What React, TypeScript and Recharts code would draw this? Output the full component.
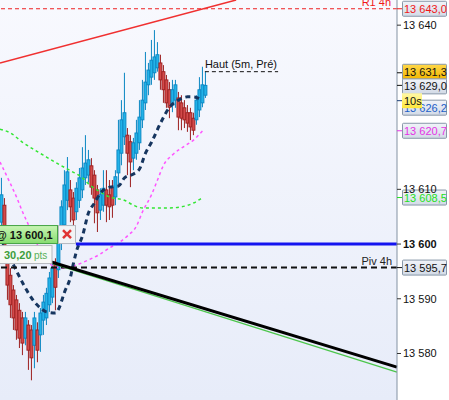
import { ComposedChart, Bar, Line, XAxis, YAxis, ReferenceLine, ReferenceDot } from 'recharts'

// 5m candles (index = candle number)
const opens = [
  13604.0, 13607.1, 13598.9, 13594.3, 13591.6, 13589.8, 13587.9, 13586.5, 13582.8, 13585.2,
  13584.3, 13581.5, 13584.3, 13583.4, 13586.1, 13586.5, 13588.9, 13590.3, 13596.7, 13595.3,
  13600.2, 13603.5, 13608.0, 13609.9, 13608.4, 13605.9, 13608.0, 13609.9, 13612.1, 13612.6,
  13614.3, 13612.6, 13609.9, 13606.2, 13607.1, 13609.9, 13609.0, 13610.4, 13608.6, 13613.0,
  13616.6, 13619.6, 13619.9, 13618.7, 13615.7, 13616.6, 13618.5, 13622.7, 13625.8, 13629.1,
  13630.5, 13631.3, 13632.2, 13633.1, 13631.5, 13630.0, 13628.2, 13625.4, 13626.3, 13626.7,
  13625.8, 13624.9, 13624.0, 13624.0, 13623.0, 13622.7, 13624.5, 13625.8, 13627.2,
]
const highs = [
  13612.1, 13608.4, 13599.8, 13595.6, 13592.5, 13590.7, 13589.2, 13587.6, 13587.6, 13586.1,
  13585.2, 13587.6, 13585.7, 13588.3, 13590.7, 13592.0, 13594.9, 13596.7, 13597.4, 13602.9,
  13608.0, 13613.5, 13615.9, 13611.7, 13609.5, 13611.3, 13613.9, 13617.7, 13619.9, 13617.2,
  13615.7, 13613.5, 13610.8, 13610.2, 13613.5, 13613.5, 13611.7, 13611.7, 13613.5, 13622.7,
  13626.3, 13631.3, 13621.2, 13619.9, 13619.4, 13622.7, 13626.3, 13630.0, 13635.1, 13633.1,
  13637.3, 13639.1, 13636.9, 13634.6, 13632.7, 13630.9, 13629.6, 13630.0, 13630.0, 13627.8,
  13627.2, 13626.3, 13625.4, 13624.9, 13624.0, 13627.2, 13630.5, 13632.4, 13631.5,
]
const lows = [
  13602.9, 13597.4, 13589.8, 13586.5, 13584.3, 13582.5, 13581.0, 13579.7, 13581.5, 13577.0,
  13575.1, 13577.3, 13578.4, 13580.3, 13583.4, 13585.2, 13587.6, 13589.2, 13587.9, 13593.8,
  13598.9, 13602.2, 13606.2, 13604.0, 13602.0, 13604.4, 13606.6, 13608.4, 13610.8, 13611.2,
  13609.0, 13603.8, 13602.2, 13604.4, 13605.9, 13604.0, 13604.4, 13604.8, 13607.1, 13610.8,
  13614.4, 13618.1, 13612.6, 13610.4, 13613.5, 13615.4, 13617.2, 13621.2, 13624.5, 13627.2,
  13629.1, 13630.0, 13631.5, 13628.2, 13625.8, 13624.9, 13623.0, 13624.1, 13624.9, 13620.8,
  13620.8, 13621.2, 13620.5, 13619.0, 13619.9, 13621.8, 13623.2, 13625.0, 13626.7,
]
const closes = [
  13609.0, 13598.9, 13592.5, 13588.9, 13586.5, 13584.3, 13582.8, 13581.9, 13586.5, 13580.6,
  13579.2, 13586.5, 13580.6, 13587.4, 13589.4, 13591.0, 13593.8, 13595.6, 13592.1, 13602.0,
  13606.8, 13610.8, 13613.2, 13606.8, 13604.4, 13610.2, 13612.1, 13613.9, 13614.8, 13615.4,
  13610.4, 13608.4, 13605.7, 13609.0, 13610.2, 13607.1, 13606.8, 13607.1, 13612.3, 13617.2,
  13622.7, 13624.0, 13616.6, 13615.0, 13618.5, 13620.3, 13623.2, 13626.3, 13629.6, 13631.8,
  13633.6, 13634.2, 13634.6, 13630.0, 13628.2, 13625.8, 13625.0, 13628.2, 13629.1, 13623.2,
  13623.0, 13622.7, 13622.1, 13621.4, 13620.8, 13626.3, 13628.2, 13629.1, 13629.0,
]

// indicator curves (candle index -> value)
const maIdx = [0, 4, 6, 9, 11, 13, 15, 18, 19, 21, 23, 24, 25, 27, 29, 31, 33, 36, 39, 41, 44, 46, 48, 50, 53, 56, 59, 62, 64, 67]
const maVals = [
  13600.7, 13596.2, 13594.0, 13591.0, 13589.4, 13588.3, 13587.6, 13587.4, 13588.1, 13591.2,
  13594.0, 13596.5, 13598.7, 13601.5, 13605.7, 13607.5, 13609.3, 13610.4, 13610.6, 13612.1,
  13612.8, 13613.7, 13616.6, 13618.6, 13622.1, 13625.0, 13626.3, 13626.9, 13626.9, 13626.2,
]
const greenIdx = [-0.5, 3, 7, 11, 15, 20, 23, 27, 29, 33, 36, 41, 44, 47, 52, 56, 60, 64, 67]
const greenVals = [
  13621.0, 13620.3, 13618.6, 13617.2, 13615.9, 13614.3, 13613.4, 13612.1, 13611.0, 13609.5,
  13608.6, 13608.0, 13607.1, 13606.6, 13606.6, 13606.6, 13606.8, 13607.5, 13608.5,
]
const pinkIdx = [-0.5, 3, 5, 7, 9, 12, 15, 18, 21, 24, 29, 33, 36, 39, 42, 45, 47, 50, 52, 54, 57, 61, 64, 67]
const pinkVals = [
  13615.0, 13611.0, 13608.6, 13605.9, 13603.5, 13599.8, 13597.1, 13595.8, 13595.6, 13596.0,
  13597.1, 13598.2, 13599.3, 13600.2, 13601.5, 13603.3, 13605.9, 13609.0, 13611.7, 13614.4,
  13616.3, 13617.9, 13619.0, 13620.7,
]

// levels and drawn lines
const r1Level = 13643.0
const pivLevel = 13595.7
const orderLevel = 13600
const hautLevel = 13631.5
const hautFrom = 67.8
const hautTo = 92.2
const orderFrom = 24.8
const redTrend = [[-0.5, 13633.1], [78.2, 13644.6]]
const blackTrend = [[15.5, 13596.9], [131.8, 13577.5]]
const greenTrend = [[15.5, 13596.7], [131.8, 13576.6]]

const yTicks = [13580, 13590, 13600, 13610, 13640]
const tagValues = [13643.0, 13631.3, 13629.0, 13626.2, 13620.7, 13608.5, 13595.7]
const tagStyles = [
  { text: '#f01818', tick: '#f01818', fill: 'url(#tagGray)', nudge: 0 },
  { text: '#111', tick: '#111', fill: 'url(#tagGold)', nudge: -1 },
  { text: '#111', tick: '#111', fill: 'url(#tagGray)', nudge: 1 },
  { text: '#1c5fc8', tick: '#1c3f78', fill: 'url(#tagGray)', nudge: 7 },
  { text: '#e632e6', tick: '#e632e6', fill: 'url(#tagGray)', nudge: 0 },
  { text: '#22e022', tick: '#22e022', fill: 'url(#tagGray)', nudge: 0 },
  { text: '#111', tick: '#111', fill: 'url(#tagGray)', nudge: 0 },
]

const X_MIN = -0.5
const X_MAX = 131.83
const FONT = '"Liberation Sans", Arial, sans-serif'

const rows = opens.map((o, i) => ({ i, open: o, high: highs[i], low: lows[i], close: closes[i] }))
const maData = maIdx.map((i, k) => ({ i, v: maVals[k] }))
const greenData = greenIdx.map((i, k) => ({ i, v: greenVals[k] }))
const pinkData = pinkIdx.map((i, k) => ({ i, v: pinkVals[k] }))

const fmtTick = (v: number) => `${Math.floor(v / 1000)} ${String(v % 1000).padStart(3, '0')}`
const fmtPrice = (v: number) => {
  const [int, dec] = v.toFixed(1).split('.')
  return `${int.slice(0, int.length - 3)} ${int.slice(-3)},${dec}`
}

const Candle = (props: any) => {
  const { x, y, width, height, payload } = props
  if (!payload) return null
  const top = Math.min(y, y + height)
  const h = Math.abs(height)
  const cx = x + width / 2
  const span = payload.high - payload.low || 1
  const py = (v: number) => top + ((payload.high - v) / span) * h
  const up = payload.close >= payload.open
  const dark = up ? '#0a86c2' : '#9c1f1f'
  const light = up ? '#22b2e8' : '#d24a4a'
  const bTop = py(Math.max(payload.open, payload.close))
  const bBot = py(Math.min(payload.open, payload.close))
  return (
    <g>
      <line x1={cx} x2={cx} y1={top} y2={top + h} stroke={dark} strokeWidth={1} />
      <rect x={cx - 1.5} y={bTop} width={3} height={Math.max(bBot - bTop, 1)} fill={light} stroke={dark} strokeWidth={0.9} />
    </g>
  )
}

const AxisTick = (props: any) => {
  const { x, y, payload } = props
  return (
    <text x={x} y={y} dy={4} fontSize={11} fontFamily={FONT} fill="#111" fontWeight={payload.value === orderLevel ? 'bold' : 'normal'}>
      {fmtTick(payload.value)}
    </text>
  )
}

const tagShape = (value: number, s: (typeof tagStyles)[number]) => (p: any) => {
  const cy = p.cy + s.nudge
  const x0 = p.cx + 5
  return (
    <g>
      <line x1={p.cx} x2={x0} y1={p.cy} y2={p.cy} stroke={s.tick} strokeWidth={1} />
      <rect x={x0 + 0.5} y={cy - 7.5} width={44} height={15} rx={1} fill={s.fill} stroke="#8797a8" strokeWidth={1} />
      <text x={x0 + 2} y={cy + 4} fontSize={11} fontFamily={FONT} fill={s.text}>
        {fmtPrice(value)}
      </text>
    </g>
  )
}

const timerShape = (p: any) => (
  <g>
    <rect x={p.cx + 5} y={p.cy - 7.5} width={20} height={15} fill="url(#tenS)" />
    <text x={p.cx + 7} y={p.cy + 4} fontSize={11} fontFamily={FONT} fill="#111">10s</text>
  </g>
)

const sideLabel = (text: string, color: string, dx: number, dy: number, anchor: 'start' | 'end') => (p: any) => (
  <text x={p.cx + dx} y={p.cy + dy} fontSize={11} fontFamily={FONT} fill={color} textAnchor={anchor}>
    {text}
  </text>
)

const orderShape = (p: any) => {
  const cy = p.cy
  return (
    <g>
      <rect x={-1} y={cy - 18.5} width={58.5} height={18} fill="url(#orderGreen)" stroke="#44a244" strokeWidth={1} />
      <text x={-4} y={cy - 5} fontSize={11} fontWeight="bold" fontFamily={FONT} fill="#111">@ 13 600,1</text>
      <rect x={58.5} y={cy - 18.5} width={17} height={18} fill="#f2f3f5" stroke="#b4b8bf" strokeWidth={1} />
      <line x1={63} y1={cy - 14} x2={71} y2={cy - 6} stroke="#e03434" strokeWidth={2.5} />
      <line x1={71} y1={cy - 14} x2={63} y2={cy - 6} stroke="#e03434" strokeWidth={2.5} />
      <rect x={-1} y={cy + 1.5} width={53} height={18} fill="#f6f8f6" stroke="#b5b8bd" strokeWidth={1} />
      <text x={4} y={cy + 15} fontSize={11} fontWeight="bold" fontFamily={FONT} fill="#3c9e3c">30,20</text>
      <text x={34} y={cy + 15} fontSize={10} fontFamily={FONT} fill="#58b058">pts</text>
    </g>
  )
}

export default function App() {
  return (
    <div style={{ position: 'absolute', left: 0, top: 0, width: 449, height: 400, background: '#fff' }}>
      <div style={{ position: 'absolute', left: 0, top: 0, width: 397, height: 400, background: 'linear-gradient(to bottom, #f8f9fe, #e7ecf9)' }} />
      <div style={{ position: 'absolute', left: 0, top: 0 }}>
        <ComposedChart width={449} height={400} data={rows} margin={{ top: 0, right: 0, bottom: 0, left: 0 }}>
          <defs>
            <linearGradient id="tagGray" x1="0" y1="0" x2="0" y2="1">
              <stop offset="0%" stopColor="#f1f4f9" />
              <stop offset="100%" stopColor="#d2dae6" />
            </linearGradient>
            <linearGradient id="tagGold" x1="0" y1="0" x2="0" y2="1">
              <stop offset="0%" stopColor="#ffd84a" />
              <stop offset="100%" stopColor="#f2b600" />
            </linearGradient>
            <linearGradient id="tenS" x1="0" y1="0" x2="0" y2="1">
              <stop offset="0%" stopColor="#fff8a8" />
              <stop offset="100%" stopColor="#ffe83a" />
            </linearGradient>
            <linearGradient id="orderGreen" x1="0" y1="0" x2="0" y2="1">
              <stop offset="0%" stopColor="#c9f5b5" />
              <stop offset="100%" stopColor="#86dc6e" />
            </linearGradient>
          </defs>
          <XAxis dataKey="i" type="number" domain={[X_MIN, X_MAX]} allowDataOverflow hide />
          <YAxis
            orientation="right"
            width={52}
            type="number"
            domain={[13571.5, 13644.6]}
            allowDataOverflow
            ticks={yTicks}
            interval={0}
            tick={<AxisTick />}
            tickSize={4}
            tickMargin={2}
            tickLine={{ stroke: '#333' }}
            axisLine={{ stroke: '#8392a3' }}
          />

          <ReferenceLine y={r1Level} stroke="#ee2020" strokeWidth={1} strokeDasharray="4 3" />
          <ReferenceLine
            segment={[{ x: redTrend[0][0], y: redTrend[0][1] }, { x: redTrend[1][0], y: redTrend[1][1] }]}
            stroke="#f03030"
            strokeWidth={1.5}
            ifOverflow="visible"
          />

          <Bar dataKey={(d: any) => [d.low, d.high]} barSize={3} shape={<Candle />} isAnimationActive={false} />

          <Line data={greenData} dataKey="v" type="monotone" stroke="#33e633" strokeWidth={1.5} strokeDasharray="3 3" dot={false} activeDot={false} isAnimationActive={false} />
          <Line data={pinkData} dataKey="v" type="monotone" stroke="#ff55ff" strokeWidth={1.5} strokeDasharray="3 3" dot={false} activeDot={false} isAnimationActive={false} />
          <Line data={maData} dataKey="v" type="monotone" stroke="#16355f" strokeWidth={3} strokeDasharray="5 4" dot={false} activeDot={false} isAnimationActive={false} />

          <ReferenceLine
            segment={[{ x: orderFrom, y: orderLevel }, { x: X_MAX, y: orderLevel }]}
            stroke="#1414f0"
            strokeWidth={3}
            ifOverflow="visible"
          />
          <ReferenceLine y={pivLevel} stroke="#111" strokeWidth={2} strokeDasharray="6 4" />
          <ReferenceLine
            segment={[{ x: hautFrom, y: hautLevel }, { x: hautTo, y: hautLevel }]}
            stroke="#111"
            strokeWidth={1}
            strokeDasharray="4 3"
            ifOverflow="visible"
          />
          <ReferenceLine
            segment={[{ x: greenTrend[0][0], y: greenTrend[0][1] }, { x: greenTrend[1][0], y: greenTrend[1][1] }]}
            stroke="#4cc64c"
            strokeWidth={1.2}
            ifOverflow="visible"
          />
          <ReferenceLine
            segment={[{ x: blackTrend[0][0], y: blackTrend[0][1] }, { x: blackTrend[1][0], y: blackTrend[1][1] }]}
            stroke="#000"
            strokeWidth={3}
            ifOverflow="visible"
          />

          <ReferenceDot x={X_MAX} y={r1Level} ifOverflow="visible" shape={sideLabel('R1 4h', '#f01818', -6, -3, 'end')} />
          <ReferenceDot x={X_MAX} y={pivLevel} ifOverflow="visible" shape={sideLabel('Piv 4h', '#222', -5, -3, 'end')} />
          <ReferenceDot x={hautFrom} y={hautLevel} ifOverflow="visible" shape={sideLabel('Haut (5m, Pré)', '#111', 0, -4, 'start')} />
          <ReferenceDot x={X_MIN} y={orderLevel} ifOverflow="visible" shape={orderShape} />

          {tagValues.map((v, k) => (
            <ReferenceDot key={v} x={X_MAX} y={v} ifOverflow="visible" shape={tagShape(v, tagStyles[k])} />
          ))}
          <ReferenceDot x={X_MAX} y={tagValues[3]} ifOverflow="visible" shape={timerShape} />
        </ComposedChart>
      </div>
    </div>
  )
}
